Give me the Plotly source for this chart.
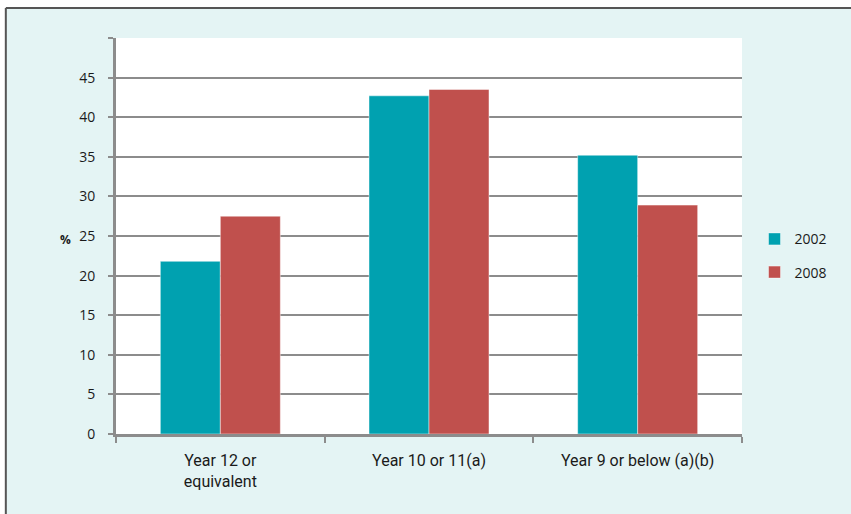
import plotly.graph_objects as go

# Highest level of schooling completed, share of people (%)
categories = ["Year 12 or<br>equivalent", "Year 10 or 11(a)", "Year 9 or below (a)(b)"]
series_names = ["2002", "2008"]
values_2002 = [21.8, 42.7, 35.2]
values_2008 = [27.5, 43.5, 28.9]
y_ticks = [0, 5, 10, 15, 20, 25, 30, 35, 40, 45, 50]
y_tick_text = ["0", "5", "10", "15", "20", "25", "30", "35", "40", "45", ""]

TEAL = "#00A1B0"
RED = "#C0504D"
PANEL = "#E4F4F4"
GRID = "#8C8C8C"
TEXT = "#1a1a1a"

fig = go.Figure()
for name, vals, col in [(series_names[0], values_2002, TEAL),
                        (series_names[1], values_2008, RED)]:
    fig.add_trace(go.Bar(
        x=categories, y=vals, name=name, legendgroup=name,
        marker=dict(color=col, line=dict(color="rgba(255,255,255,0.45)", width=1)),
    ))

# Light panel with a dark frame on its top and left edges
fig.add_shape(type="rect", xref="paper", yref="paper",
              x0=-0.176, x1=1.2, y0=-0.3, y1=1.076,
              fillcolor=PANEL, line=dict(width=0), layer="below")
fig.add_shape(type="line", xref="paper", yref="paper",
              x0=-0.176, x1=1.2, y0=1.076, y1=1.076,
              line=dict(color="#555555", width=2), layer="below")
fig.add_shape(type="line", xref="paper", yref="paper",
              x0=-0.176, x1=-0.176, y0=-0.3, y1=1.076,
              line=dict(color="#555555", width=2), layer="below")
fig.add_shape(type="rect", xref="paper", yref="paper",
              x0=0, x1=1, y0=0, y1=1,
              fillcolor="white", line=dict(width=0), layer="below")

fig.add_annotation(text="<b>%</b>", xref="paper", yref="y", x=-0.093, y=24.6,
                   showarrow=False, font=dict(size=12, color=TEXT, family="Open Sans"))

fig.update_layout(
    width=851, height=514,
    margin=dict(l=116, r=109, t=38, b=80),
    paper_bgcolor="white", plot_bgcolor="white",
    barmode="group", bargap=0.425, bargroupgap=0,
    font=dict(family="Open Sans", size=14, color=TEXT),
    legend=dict(x=1.02, xanchor="left", y=0.45, yanchor="middle",
                font=dict(size=14, family="Open Sans", color=TEXT),
                tracegroupgap=12, bgcolor="rgba(0,0,0,0)"),
    showlegend=True,
)
fig.update_xaxes(
    showline=True, linecolor=GRID, linewidth=3,
    ticks="outside", tickson="boundaries", ticklen=6, tickwidth=2, tickcolor=GRID,
    showgrid=False, ticklabelstandoff=10,
    tickfont=dict(family="Roboto", size=16, color=TEXT),
)
fig.update_yaxes(
    range=[0, 50], tickvals=y_ticks, ticktext=y_tick_text,
    showline=True, linecolor=GRID, linewidth=3,
    ticks="outside", ticklen=5, tickwidth=2, tickcolor=GRID,
    showgrid=True, gridcolor=GRID, gridwidth=2, zeroline=False,
    ticklabelstandoff=10,
    tickfont=dict(family="Open Sans", size=14, color=TEXT),
)

fig.write_html("out.html")
